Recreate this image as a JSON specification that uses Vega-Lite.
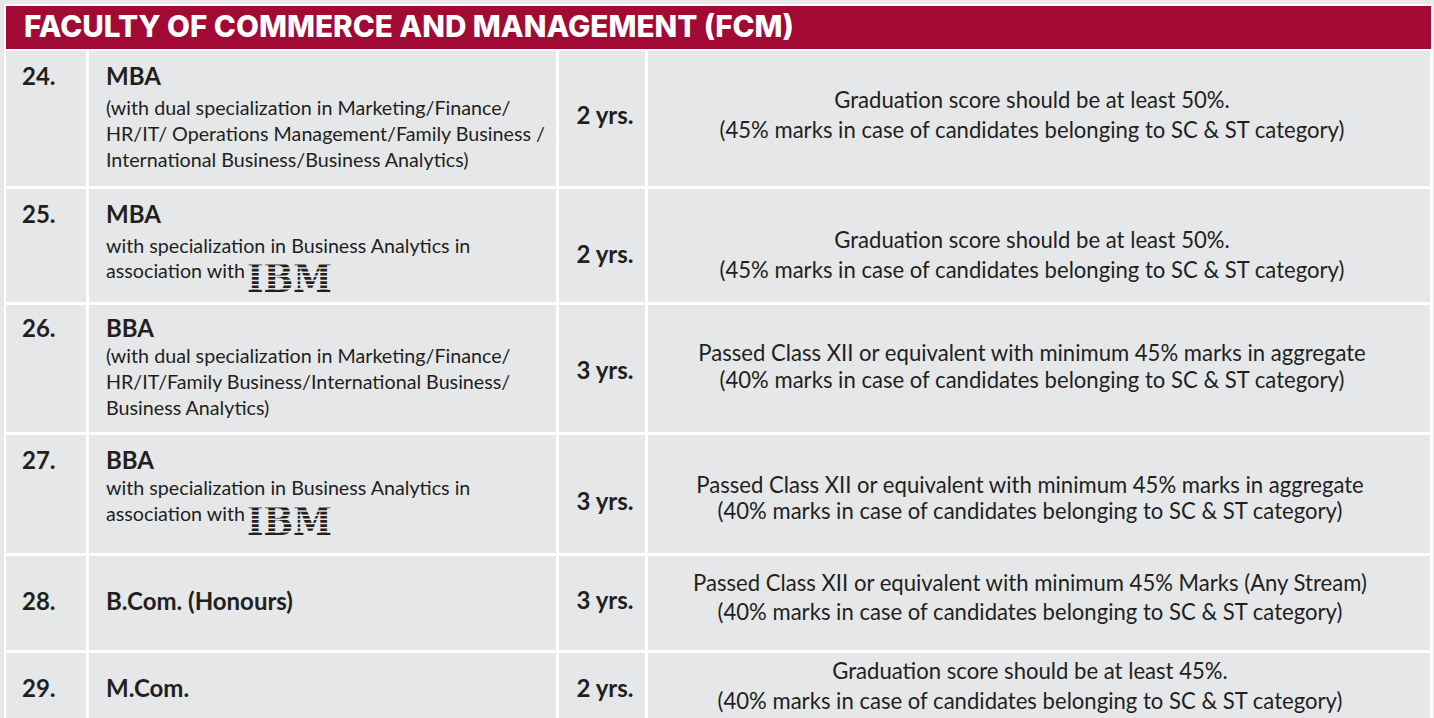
{
  "$schema": "https://vega.github.io/schema/vega-lite/v6.json",
  "width": 1434,
  "height": 718,
  "padding": 0,
  "autosize": "none",
  "background": "#E6E7E8",
  "config": {"view": {"stroke": null}, "axis": {"disable": true}},
  "datasets": {
    "frame": [{"x1": 4, "x2": 1433, "y1": 4, "y2": 718}],
    "header": [{"x1": 6, "x2": 1431, "y1": 6, "y2": 49, "label": "FACULTY OF COMMERCE AND MANAGEMENT (FCM)", "tx": 24, "ty": 28}],
    "cells": [
      {"x1": 6, "x2": 86, "y1": 51, "y2": 186}, {"x1": 89, "x2": 556, "y1": 51, "y2": 186}, {"x1": 559, "x2": 645, "y1": 51, "y2": 186}, {"x1": 648, "x2": 1430, "y1": 51, "y2": 186},
      {"x1": 6, "x2": 86, "y1": 189, "y2": 302}, {"x1": 89, "x2": 556, "y1": 189, "y2": 302}, {"x1": 559, "x2": 645, "y1": 189, "y2": 302}, {"x1": 648, "x2": 1430, "y1": 189, "y2": 302},
      {"x1": 6, "x2": 86, "y1": 305, "y2": 432}, {"x1": 89, "x2": 556, "y1": 305, "y2": 432}, {"x1": 559, "x2": 645, "y1": 305, "y2": 432}, {"x1": 648, "x2": 1430, "y1": 305, "y2": 432},
      {"x1": 6, "x2": 86, "y1": 435, "y2": 553}, {"x1": 89, "x2": 556, "y1": 435, "y2": 553}, {"x1": 559, "x2": 645, "y1": 435, "y2": 553}, {"x1": 648, "x2": 1430, "y1": 435, "y2": 553},
      {"x1": 6, "x2": 86, "y1": 556, "y2": 650}, {"x1": 89, "x2": 556, "y1": 556, "y2": 650}, {"x1": 559, "x2": 645, "y1": 556, "y2": 650}, {"x1": 648, "x2": 1430, "y1": 556, "y2": 650},
      {"x1": 6, "x2": 86, "y1": 653, "y2": 718}, {"x1": 89, "x2": 556, "y1": 653, "y2": 718}, {"x1": 559, "x2": 645, "y1": 653, "y2": 718}, {"x1": 648, "x2": 1430, "y1": 653, "y2": 718}
    ],
    "texts": [
      {"role": "num", "label": "24.", "x": 22, "y": 78},
      {"role": "num", "label": "25.", "x": 22, "y": 216},
      {"role": "num", "label": "26.", "x": 22, "y": 330},
      {"role": "num", "label": "27.", "x": 22, "y": 462},
      {"role": "num", "label": "28.", "x": 22, "y": 603},
      {"role": "num", "label": "29.", "x": 22, "y": 690},
      {"role": "title", "label": "MBA", "x": 106, "y": 78},
      {"role": "title", "label": "MBA", "x": 106, "y": 216},
      {"role": "title", "label": "BBA", "x": 106, "y": 330},
      {"role": "title", "label": "BBA", "x": 106, "y": 462},
      {"role": "title", "label": "B.Com. (Honours)", "x": 106, "y": 603},
      {"role": "title", "label": "M.Com.", "x": 106, "y": 690},
      {"role": "sub", "label": "(with dual specialization in Marketing/Finance/", "x": 106, "y": 109},
      {"role": "sub", "label": "HR/IT/ Operations Management/Family Business /", "x": 106, "y": 135},
      {"role": "sub", "label": "International Business/Business Analytics)", "x": 106, "y": 161},
      {"role": "sub", "label": "with specialization in Business Analytics in", "x": 106, "y": 247},
      {"role": "sub", "label": "association with", "x": 106, "y": 272},
      {"role": "sub", "label": "(with dual specialization in Marketing/Finance/", "x": 106, "y": 357},
      {"role": "sub", "label": "HR/IT/Family Business/International Business/", "x": 106, "y": 383},
      {"role": "sub", "label": "Business Analytics)", "x": 106, "y": 409},
      {"role": "sub", "label": "with specialization in Business Analytics in", "x": 106, "y": 489},
      {"role": "sub", "label": "association with", "x": 106, "y": 515},
      {"role": "dur", "label": "2 yrs.", "x": 605, "y": 117},
      {"role": "dur", "label": "2 yrs.", "x": 605, "y": 256},
      {"role": "dur", "label": "3 yrs.", "x": 605, "y": 372},
      {"role": "dur", "label": "3 yrs.", "x": 605, "y": 503},
      {"role": "dur", "label": "3 yrs.", "x": 605, "y": 602},
      {"role": "dur", "label": "2 yrs.", "x": 605, "y": 690},
      {"role": "crit", "label": "Graduation score should be at least 50%.", "x": 1032, "y": 101},
      {"role": "crit", "label": "(45% marks in case of candidates belonging to SC & ST category)", "x": 1032, "y": 131},
      {"role": "crit", "label": "Graduation score should be at least 50%.", "x": 1032, "y": 241},
      {"role": "crit", "label": "(45% marks in case of candidates belonging to SC & ST category)", "x": 1032, "y": 271},
      {"role": "crit", "label": "Passed Class XII or equivalent with minimum 45% marks in aggregate", "x": 1032, "y": 354},
      {"role": "crit", "label": "(40% marks in case of candidates belonging to SC & ST category)", "x": 1032, "y": 381},
      {"role": "crit", "label": "Passed Class XII or equivalent with minimum 45% marks in aggregate", "x": 1030, "y": 486},
      {"role": "crit", "label": "(40% marks in case of candidates belonging to SC & ST category)", "x": 1030, "y": 512},
      {"role": "crit", "label": "Passed Class XII or equivalent with minimum 45% Marks (Any Stream)", "x": 1030, "y": 584},
      {"role": "crit", "label": "(40% marks in case of candidates belonging to SC & ST category)", "x": 1030, "y": 613},
      {"role": "crit", "label": "Graduation score should be at least 45%.", "x": 1030, "y": 672},
      {"role": "crit", "label": "(40% marks in case of candidates belonging to SC & ST category)", "x": 1030, "y": 702}
    ],
    "logos": [
      {"label": "IBM", "x": 247, "y": 292},
      {"label": "IBM", "x": 247, "y": 535}
    ],
    "stripes": [
      {"x1": 244, "x2": 334, "y": 263.8}, {"x1": 244, "x2": 334, "y": 268}, {"x1": 244, "x2": 334, "y": 272.2}, {"x1": 244, "x2": 334, "y": 276.3}, {"x1": 244, "x2": 334, "y": 280.5}, {"x1": 244, "x2": 334, "y": 284.7}, {"x1": 244, "x2": 334, "y": 288.8},
      {"x1": 244, "x2": 334, "y": 506.8}, {"x1": 244, "x2": 334, "y": 511}, {"x1": 244, "x2": 334, "y": 515.2}, {"x1": 244, "x2": 334, "y": 519.3}, {"x1": 244, "x2": 334, "y": 523.5}, {"x1": 244, "x2": 334, "y": 527.7}, {"x1": 244, "x2": 334, "y": 531.8}
    ]
  },
  "layer": [
    {
      "data": {"name": "frame"},
      "mark": {"type": "rect", "color": "#FFFFFF"},
      "encoding": {
        "x": {"field": "x1", "type": "quantitative", "scale": {"domain": [0, 1434], "nice": false, "zero": false}},
        "x2": {"field": "x2"},
        "y": {"field": "y1", "type": "quantitative", "scale": {"domain": [0, 718], "reverse": true, "nice": false, "zero": false}},
        "y2": {"field": "y2"}
      }
    },
    {
      "data": {"name": "header"},
      "mark": {"type": "rect", "color": "#A20A35"},
      "encoding": {
        "x": {"field": "x1", "type": "quantitative"},
        "x2": {"field": "x2"},
        "y": {"field": "y1", "type": "quantitative"},
        "y2": {"field": "y2"}
      }
    },
    {
      "data": {"name": "cells"},
      "mark": {"type": "rect", "color": "#E6E7E8"},
      "encoding": {
        "x": {"field": "x1", "type": "quantitative"},
        "x2": {"field": "x2"},
        "y": {"field": "y1", "type": "quantitative"},
        "y2": {"field": "y2"}
      }
    },
    {
      "data": {"name": "header"},
      "mark": {"type": "text", "align": "left", "baseline": "middle", "font": "Inter", "fontWeight": 800, "fontSize": 29.7, "color": "#FFFFFF"},
      "encoding": {
        "x": {"field": "tx", "type": "quantitative"},
        "y": {"field": "ty", "type": "quantitative"},
        "text": {"field": "label"}
      }
    },
    {
      "data": {"name": "texts"},
      "transform": [{"filter": "datum.role === 'num' || datum.role === 'title'"}],
      "mark": {"type": "text", "align": "left", "baseline": "middle", "font": "Lato", "fontWeight": "bold", "fontSize": 24, "color": "#231F20"},
      "encoding": {
        "x": {"field": "x", "type": "quantitative"},
        "y": {"field": "y", "type": "quantitative"},
        "text": {"field": "label"}
      }
    },
    {
      "data": {"name": "texts"},
      "transform": [{"filter": "datum.role === 'sub'"}],
      "mark": {"type": "text", "align": "left", "baseline": "middle", "font": "Lato", "fontSize": 19.7, "color": "#231F20"},
      "encoding": {
        "x": {"field": "x", "type": "quantitative"},
        "y": {"field": "y", "type": "quantitative"},
        "text": {"field": "label"}
      }
    },
    {
      "data": {"name": "texts"},
      "transform": [{"filter": "datum.role === 'dur'"}],
      "mark": {"type": "text", "align": "center", "baseline": "middle", "font": "Lato", "fontWeight": "bold", "fontSize": 24, "color": "#231F20"},
      "encoding": {
        "x": {"field": "x", "type": "quantitative"},
        "y": {"field": "y", "type": "quantitative"},
        "text": {"field": "label"}
      }
    },
    {
      "data": {"name": "texts"},
      "transform": [{"filter": "datum.role === 'crit'"}],
      "mark": {"type": "text", "align": "center", "baseline": "middle", "font": "Lato", "fontSize": 22.1, "color": "#231F20"},
      "encoding": {
        "x": {"field": "x", "type": "quantitative"},
        "y": {"field": "y", "type": "quantitative"},
        "text": {"field": "label"}
      }
    },
    {
      "data": {"name": "logos"},
      "mark": {"type": "text", "align": "left", "baseline": "alphabetic", "font": "DejaVu Serif Condensed", "fontWeight": "bold", "fontSize": 39, "color": "#231F20"},
      "encoding": {
        "x": {"field": "x", "type": "quantitative"},
        "y": {"field": "y", "type": "quantitative"},
        "text": {"field": "label"}
      }
    },
    {
      "data": {"name": "stripes"},
      "mark": {"type": "rule", "color": "#E6E7E8", "strokeWidth": 1.6},
      "encoding": {
        "x": {"field": "x1", "type": "quantitative"},
        "x2": {"field": "x2"},
        "y": {"field": "y", "type": "quantitative"}
      }
    }
  ]
}
